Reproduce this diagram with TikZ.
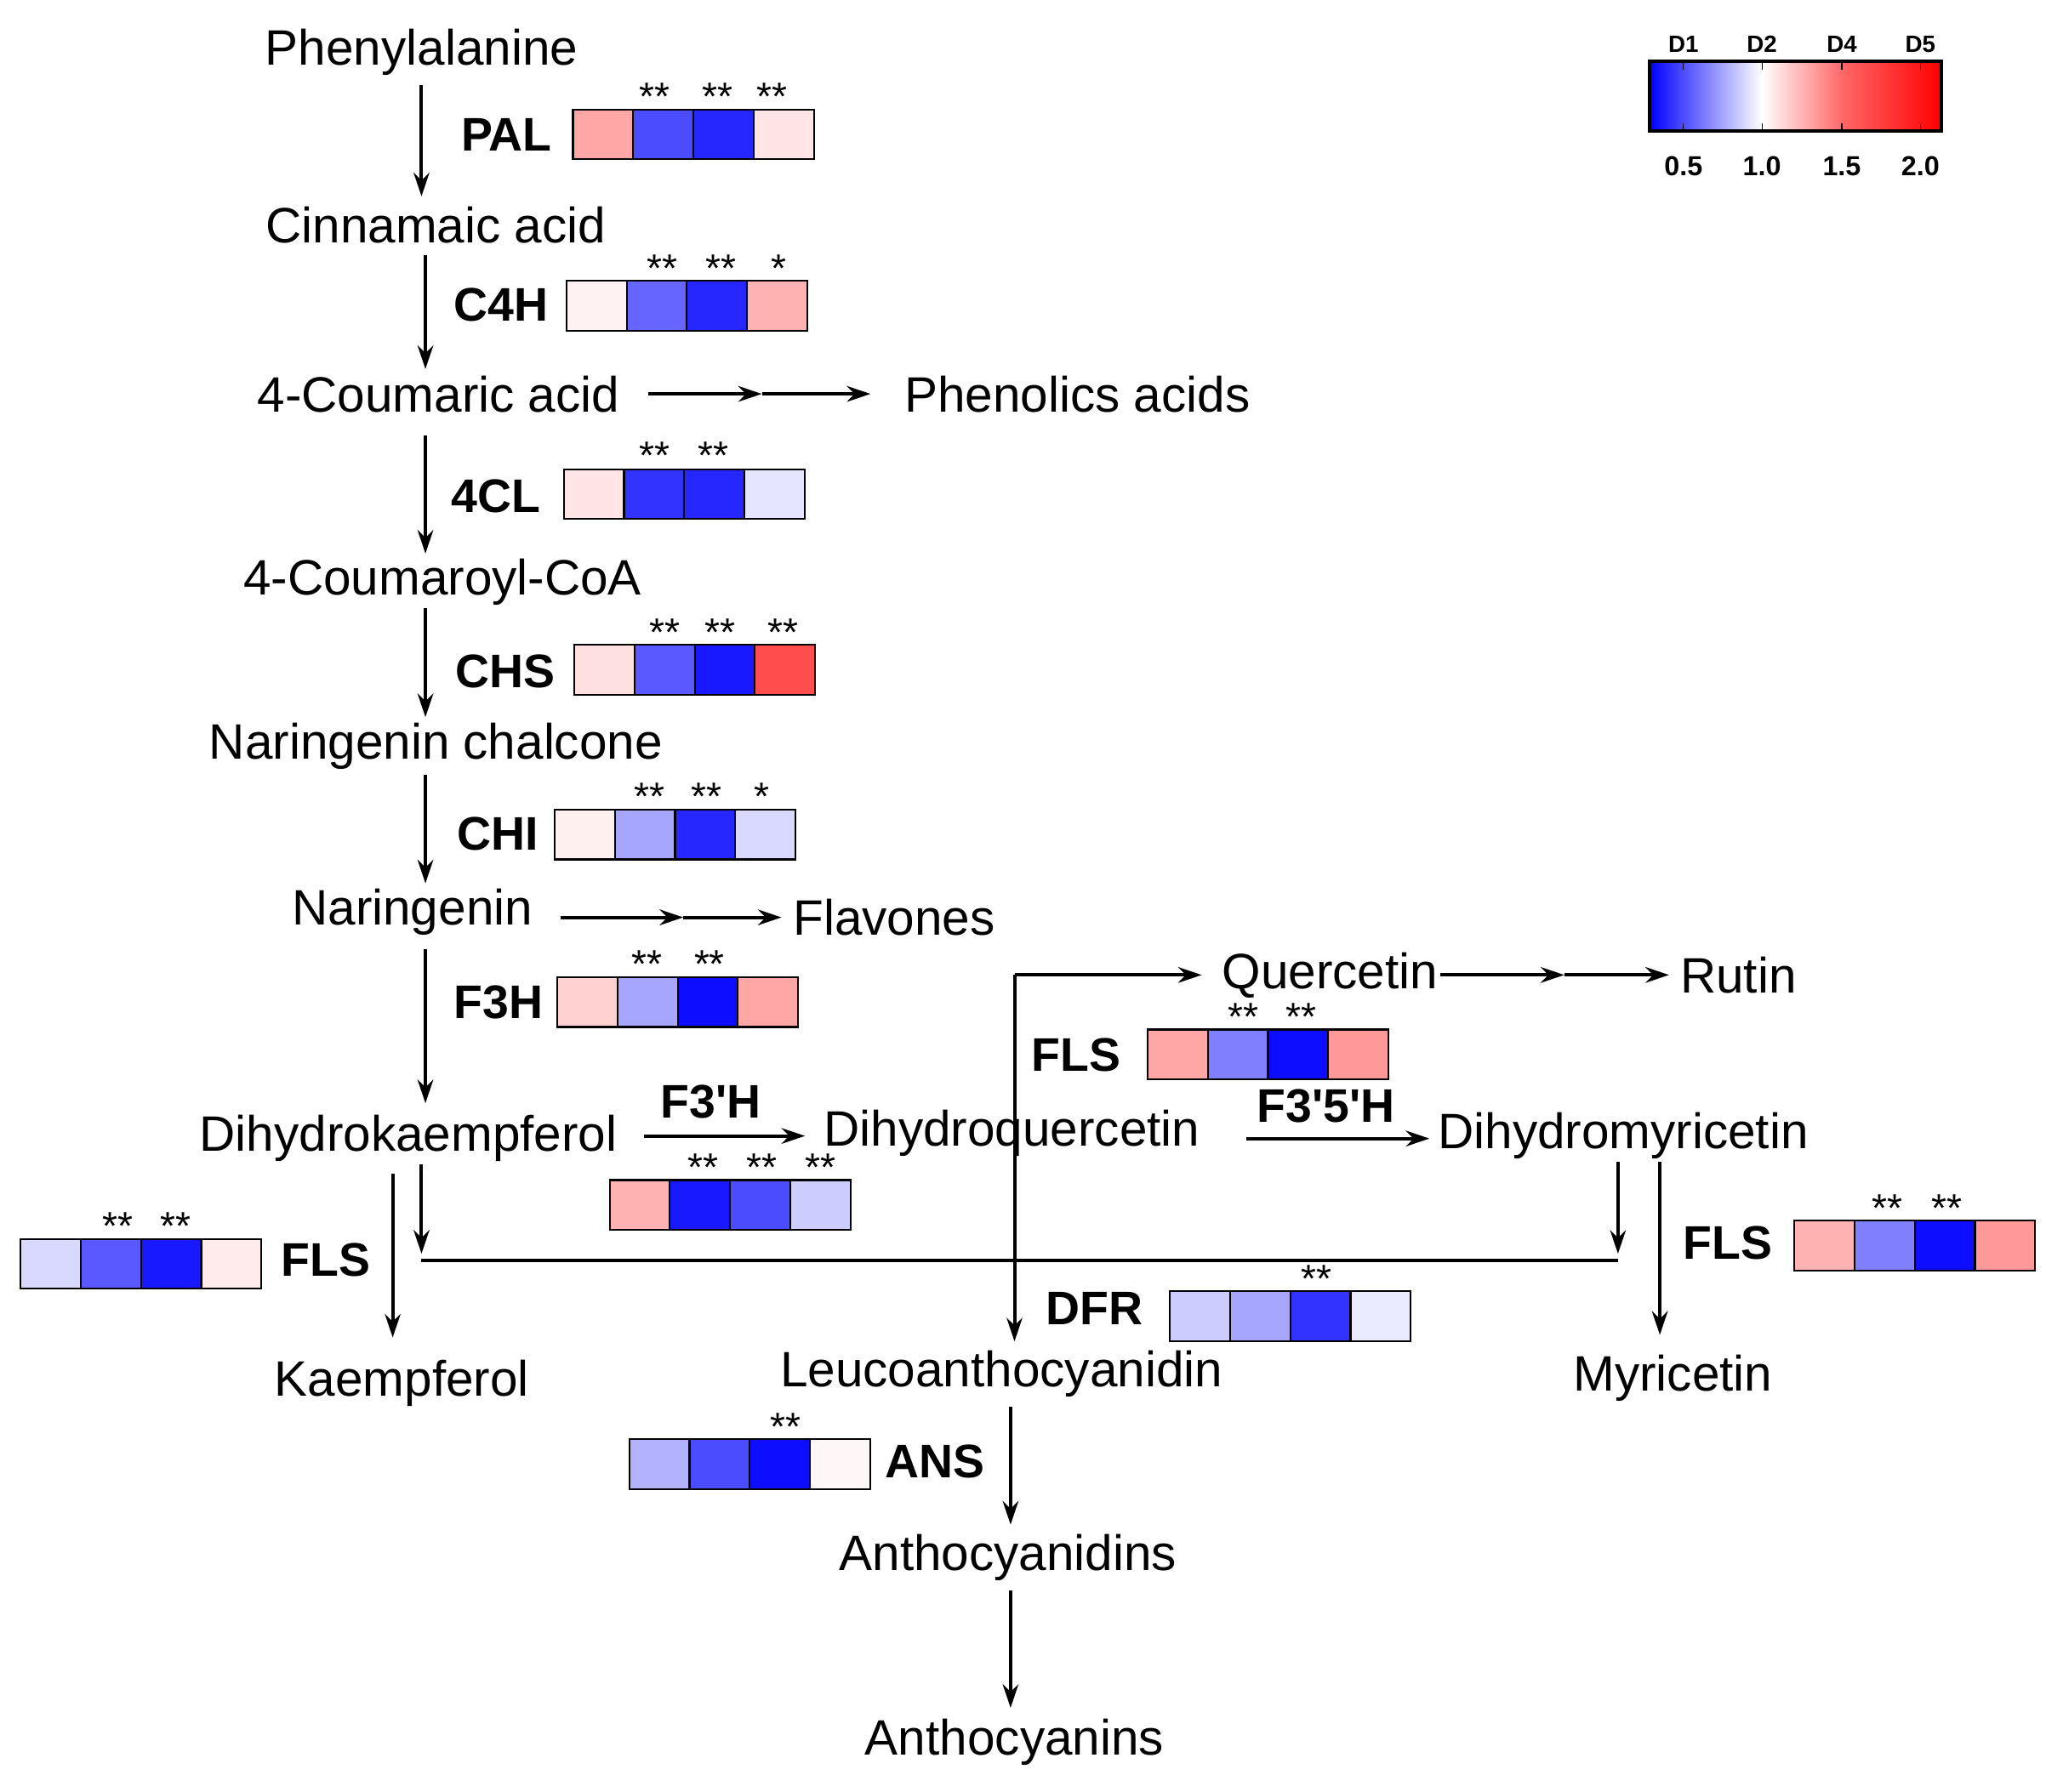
\documentclass[tikz,border=0pt]{standalone}
\usepackage{fontspec}
\setmainfont{Liberation Sans}
\usetikzlibrary{arrows.meta}
\begin{document}
\begin{tikzpicture}[x=0.5pt,y=-0.5pt,
  lbl/.style={font=\fontsize{19}{20}\selectfont, inner sep=0pt},
  enz/.style={font=\bfseries\fontsize{18}{19}\selectfont, inner sep=0pt},
  st/.style={font=\fontsize{15}{15}\selectfont, inner sep=0pt},
  cell/.style={draw=black, line width=0.7pt, minimum width=23pt, minimum height=19pt, inner sep=0pt, anchor=north west},
  ar/.style={line width=1.3pt, -{Stealth[length=9pt,width=6pt]}},
  ln/.style={line width=1.3pt}]
\useasboundingbox (0,0) rectangle (1563,1369);
\newcommand\heat[7]{%
  \node[cell,fill=#4] (#1a) at (#2,#3) {};
  \node[cell,fill=#5] (#1b) at (#2+46,#3) {};
  \node[cell,fill=#6] (#1c) at (#2+92,#3) {};
  \node[cell,fill=#7] (#1d) at (#2+138,#3) {};}
\newcommand\ap{\textquotesingle}
% PAL
\node[lbl] (phe) at (322,40) {Phenylalanine};
\node[enz] (pal) at (387,103) {PAL};
\heat{hpal}{437}{83}{red!35}{blue!70}{blue!85}{red!10}
\node[st] at (500,74) {**};\node[st] at (548,74) {**};\node[st] at (590,74) {**};
\node[lbl] (cin) at (333,172) {Cinnamaic acid};
\draw[ar] (322,65) -- (322,150);
% C4H
\node[enz] (c4h) at (383,233) {C4H};
\heat{hc4h}{432}{214}{red!5}{blue!60}{blue!85}{red!30}
\node[st] at (506,205) {**};\node[st] at (551,205) {**};\node[st] at (595,205) {*};
\node[lbl] (cou) at (335,301) {4-Coumaric acid};
\draw[ar] (325,195) -- (325,282);
\coordinate (m1) at (582,301);
\draw[ar] (495,301) -- (m1);
\draw[ar] (m1) -- (665,301);
\node[lbl] (phen) at (823,301) {Phenolics acids};
% 4CL
\node[enz] (cl) at (379,379) {4CL};
\heat{hcl}{430}{358}{red!10}{blue!80}{blue!85}{blue!10}
\node[st] at (500,348) {**};\node[st] at (545,348) {**};
\node[lbl] (coa) at (338,445) {4-Coumaroyl-CoA};
\draw[ar] (325,333) -- (325,423);
% CHS
\node[enz] (chs) at (386,513) {CHS};
\heat{hchs}{438}{492}{red!12}{blue!65}{blue!90}{red!70}
\node[st] at (508,483) {**};\node[st] at (550,483) {**};\node[st] at (598,483) {**};
\node[lbl] (nch) at (333,570) {Naringenin chalcone};
\draw[ar] (325,465) -- (325,548);
% CHI
\node[enz] (chi) at (380,637) {CHI};
\heat{hchi}{423}{618}{red!6}{blue!35}{blue!85}{blue!15}
\node[st] at (496,609) {**};\node[st] at (540,609) {**};\node[st] at (582,609) {*};
\node[lbl] (nar) at (315,697) {Naringenin};
\draw[ar] (325,592) -- (325,675);
\coordinate (m2) at (522,701);
\draw[ar] (428,701) -- (m2);
\draw[ar] (m2) -- (597,701);
\node[lbl] (flav) at (683,701) {Flavones};
% F3H
\node[enz] (f3h) at (381,766) {F3H};
\heat{hf3h}{425}{746}{red!18}{blue!35}{blue!95}{red!35}
\node[st] at (494,737) {**};\node[st] at (542,737) {**};
\node[lbl] (dhk) at (312,870) {Dihydrokaempferol};
\draw[ar] (325,725) -- (325,843);
% F3'H
\node[enz] (f3ph) at (543,842) {F3\ap H};
\draw[ar] (492,868) -- (615,868);
\node[lbl] (dhq) at (773,866) {Dihydroquercetin};
\heat{hdhq}{465}{901}{red!30}{blue!90}{blue!70}{blue!20}
\node[st] at (537,892) {**};\node[st] at (582,892) {**};\node[st] at (627,892) {**};
% F3'5'H
\node[enz] (f35h) at (1013,845) {F3\ap 5\ap H};
\draw[ar] (952,870) -- (1092,870);
\node[lbl] (dhm) at (1240,868) {Dihydromyricetin};
% Quercetin
\node[lbl] (que) at (1016,745) {Quercetin};
\coordinate (qc) at (775,745);
\draw[ar] (qc) -- (918,745);
\draw[ar] (qc) -- (775,1025);
\coordinate (m3) at (1195,745);
\draw[ar] (1100,745) -- (m3);
\draw[ar] (m3) -- (1275,745);
\node[lbl] (rut) at (1328,745) {Rutin};
\node[enz] (flsq) at (822,806) {FLS};
\heat{hflsq}{876}{786}{red!35}{blue!50}{blue!95}{red!40}
\node[st] at (950,777) {**};\node[st] at (994,777) {**};
% junction
\draw[ln] (322,963) -- (1236,963);
\draw[ar] (322,890) -- (322,958);
\draw[ar] (1236,888) -- (1236,958);
\node[lbl] (kae) at (307,1057) {Kaempferol};
\draw[ar] (300,897) -- (300,1022);
\node[enz] (flsl) at (249,963) {FLS};
\heat{hflsl}{15}{946}{blue!15}{blue!65}{blue!90}{red!8}
\node[st] at (90,937) {**};\node[st] at (134,937) {**};
\node[lbl] (myr) at (1278,1053) {Myricetin};
\draw[ar] (1268,888) -- (1268,1020);
\node[enz] (flsr) at (1320,950) {FLS};
\heat{hflsr}{1370}{932}{red!30}{blue!50}{blue!95}{red!40}
\node[st] at (1442,923) {**};\node[st] at (1487,923) {**};
% DFR
\node[enz] (dfr) at (836,1000) {DFR};
\heat{hdfr}{893}{986}{blue!20}{blue!35}{blue!80}{blue!8}
\node[st] at (1006,977) {**};
\node[lbl] (leu) at (765,1050) {Leucoanthocyanidin};
% ANS
\node[enz] (ans) at (714,1117) {ANS};
\heat{hans}{480}{1099}{blue!30}{blue!70}{blue!95}{red!3}
\node[st] at (600,1090) {**};
\node[lbl] (acd) at (770,1190) {Anthocyanidins};
\draw[ar] (772,1075) -- (772,1165);
\node[lbl] (acn) at (775,1331) {Anthocyanins};
\draw[ar] (772,1215) -- (772,1305);
% legend
\shade[left color=blue, right color=white] (1260,47) rectangle (1346,100);
\shade[left color=white, right color=red!60] (1346,47) rectangle (1408,100);
\shade[left color=red!60, right color=red] (1408,47) rectangle (1483,100);
\draw[line width=1.2pt] (1260,47) rectangle (1483,100);
\foreach \x/\d/\n in {1286/D1/0.5,1346/D2/1.0,1407/D4/1.5,1467/D5/2.0}{
  \draw (\x,47) -- (\x,53); \draw (\x,100) -- (\x,94);
  \node[font=\bfseries\fontsize{9}{9}\selectfont] at (\x,34) {\d};
  \node[font=\bfseries\fontsize{10.5}{11}\selectfont] at (\x,127) {\n};}
\end{tikzpicture}
\end{document}
